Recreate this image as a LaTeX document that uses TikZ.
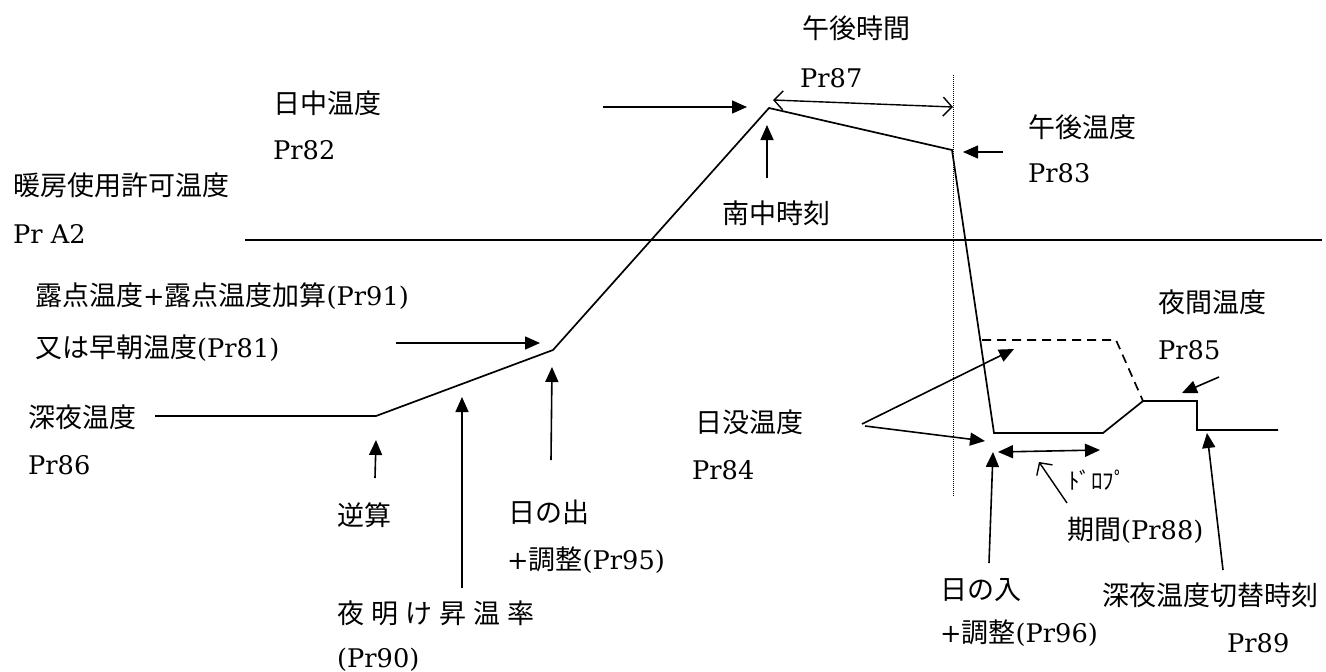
\documentclass[tikz,border=0pt]{standalone}
\usepackage{fontspec}
\setmainfont{DejaVu Serif}[Scale=0.95]
\newfontfamily\cjkfont{Noto Sans CJK JP}
\newcommand\JP[1]{{\cjkfont #1}}
\usetikzlibrary{arrows.meta}
\begin{document}
\begin{tikzpicture}[x=1pt,y=-1pt,
  lbl/.style={anchor=west,inner sep=0pt,font=\fontsize{27}{32}\selectfont},
  curve/.style={line width=1.7pt,line join=miter},
  arr/.style={line width=1.6pt,-{Triangle[length=15pt,width=13pt]}},
  darr/.style={line width=1.6pt,{Triangle[length=15pt,width=13pt]}-{Triangle[length=15pt,width=13pt]}},
  oarr/.style={line width=1.4pt,-{Straight Barb[length=9pt,width=19pt]}},
  odarr/.style={line width=1.4pt,{Straight Barb[length=9pt,width=19pt]}-{Straight Barb[length=9pt,width=19pt]}}]
\useasboundingbox[fill=white] (0,0) rectangle (1326,672);

% labels
\node[lbl] (t1) at (802,28) {\JP{午後時間}};
\node[lbl] (t2) at (800,78) {Pr87};
\node[lbl] (t3) at (273,103) {\JP{日中温度}};
\node[lbl] (t4) at (273,150) {Pr82};
\node[lbl] (t5) at (1028,127) {\JP{午後温度}};
\node[lbl] (t6) at (1028,173) {Pr83};
\node[lbl] (t7) at (13,185) {\JP{暖房使用許可温度}};
\node[lbl] (t8) at (13,234) {Pr A2};
\node[lbl] (t9) at (722,213) {\JP{南中時刻}};
\node[lbl] (t10) at (35,296) {\JP{露点温度}+\JP{露点温度加算}(Pr91)};
\node[lbl] (t11) at (35,348) {\JP{又は早朝温度}(Pr81)};
\node[lbl] (t12) at (1158,302) {\JP{夜間温度}};
\node[lbl] (t13) at (1158,350) {Pr85};
\node[lbl] (t14) at (28,417) {\JP{深夜温度}};
\node[lbl] (t15) at (28,465) {Pr86};
\node[lbl] (t16) at (695,422) {\JP{日没温度}};
\node[lbl] (t17) at (692,470) {Pr84};
\node[lbl] (t18) at (337,515) {\JP{逆算}};
\node[lbl] (t19) at (508,512) {\JP{日の出}};
\node[lbl] (t20) at (507,560) {+\JP{調整}(Pr95)};
\node[lbl] (t21) at (337,613) {\JP{夜\hspace{7pt}明\hspace{7pt}け\hspace{7pt}昇\hspace{7pt}温\hspace{7pt}率}};
\node[lbl] (t22) at (337,660) {(Pr90)};
\node[lbl,font=\fontsize{23}{26}\selectfont] (t23) at (1068,480) {\JP{ﾄﾞﾛﾌﾟ}};
\node[lbl] (t24) at (1067,530) {\JP{期間}(Pr88)};
\node[lbl] (t25) at (940,590) {\JP{日の入}};
\node[lbl] (t26) at (940,633) {+\JP{調整}(Pr96)};
\node[lbl] (t27) at (1102,595) {\JP{深夜温度切替時刻}};
\node[lbl] (t28) at (1227,643) {Pr89};

% curve points
\coordinate (c0) at (155,416);
\coordinate (c1) at (376,416);
\coordinate (c2) at (553,350);
\coordinate (c3) at (769,108);
\coordinate (c4) at (952,150);
\coordinate (c5) at (994,433);
\coordinate (c6) at (1103,433);
\coordinate (c7) at (1143,401);
\coordinate (c8) at (1197,401);
\coordinate (c9) at (1197,430);
\coordinate (c10) at (1278,430);
\coordinate (d1) at (982,340);
\coordinate (d2) at (1116,340);
\coordinate (h1) at (245,240);
\coordinate (h2) at (1322,240);
\coordinate (v1) at (953,75);
\coordinate (v2) at (953,497);

\draw[curve] (c0)--(c1)--(c2)--(c3)--(c4)--(c5)--(c6)--(c7)--(c8)--(c9)--(c10);
\draw[curve,dashed,dash pattern=on 9pt off 6pt] (d1)--(d2)--(c7);
\draw[line width=1.7pt] (h1)--(h2);
\draw[line width=1pt,densely dotted] (v1)--(v2);

% arrow end points
\coordinate (a1s) at (603,107); \coordinate (a1e) at (747,107);
\coordinate (a2s) at (767,178); \coordinate (a2e) at (767,125);
\coordinate (a3s) at (1003,152); \coordinate (a3e) at (963,152);
\coordinate (a4s) at (396,343); \coordinate (a4e) at (540,343);
\coordinate (a5s) at (375,478); \coordinate (a5e) at (376,440);
\coordinate (a6s) at (462,588); \coordinate (a6e) at (462,397);
\coordinate (a7s) at (551,460); \coordinate (a7e) at (552,367);
\coordinate (a8s) at (862,424); \coordinate (a8e) at (1014,349);
\coordinate (a9s) at (865,426); \coordinate (a9e) at (985,441);
\coordinate (a10s) at (1219,377); \coordinate (a10e) at (1182,393);
\coordinate (a11s) at (998,452); \coordinate (a11e) at (1100,450);
\coordinate (a12s) at (989,563); \coordinate (a12e) at (993,452);
\coordinate (a13s) at (1223,570); \coordinate (a13e) at (1207,433);
\coordinate (o1s) at (773,100); \coordinate (o1e) at (953,107);
\coordinate (o2s) at (1067,503); \coordinate (o2e) at (1039,462);

\draw[arr] (a1s)--(a1e);
\draw[arr] (a2s)--(a2e);
\draw[arr] (a3s)--(a3e);
\draw[arr] (a4s)--(a4e);
\draw[arr] (a5s)--(a5e);
\draw[arr] (a6s)--(a6e);
\draw[arr] (a7s)--(a7e);
\draw[arr] (a8s)--(a8e);
\draw[arr] (a9s)--(a9e);
\draw[arr] (a10s)--(a10e);
\draw[darr] (a11s)--(a11e);
\draw[arr] (a12s)--(a12e);
\draw[arr] (a13s)--(a13e);
\draw[odarr] (o1s)--(o1e);
\draw[oarr] (o2s)--(o2e);
\end{tikzpicture}
\end{document}
